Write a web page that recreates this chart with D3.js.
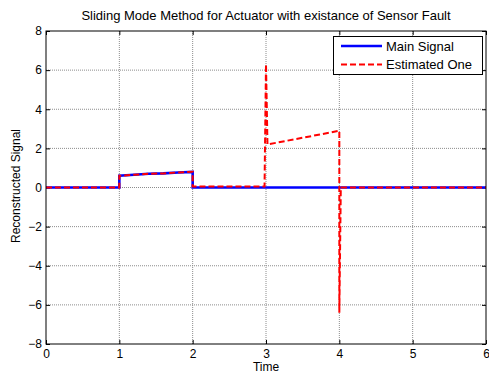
<!DOCTYPE html>
<html><head><meta charset="utf-8">
<script src="https://cdn.jsdelivr.net/npm/d3@7"></script>
<style>body{margin:0;background:#fff}svg{display:block}text{font-family:Arial,"Liberation Sans",sans-serif}</style>
</head><body>
<svg id="c" width="489" height="374"></svg>
<script>
const title = "Sliding Mode Method for Actuator with existance of Sensor Fault";
const xLabel = "Time";
const yLabel = "Reconstructed Signal";
const xTicks = [0,1,2,3,4,5,6];
const yTicks = [-8,-6,-4,-2,0,2,4,6,8];
const seriesNames = ["Main Signal","Estimated One"];
// Main signal (time, value)
const mainT = [0, 1, 1, 1.2, 1.4, 1.6, 1.8, 2, 2, 3, 4, 6];
const mainV = [0, 0, 0.6, 0.65, 0.7, 0.72, 0.77, 0.8, 0, 0, 0, 0];
// Estimated (time, value)
const estT = [0, 1, 1, 1.2, 1.4, 1.6, 1.8, 2, 2, 2.98, 3.0, 3.02, 4.0, 4.0, 4.02, 6];
const estV = [0, 0, 0.6, 0.65, 0.7, 0.72, 0.77, 0.8, 0.05, 0.05, 6.3, 2.2, 2.9, -6.4, 0, 0];

const svg = d3.select("#c");
const L=46, R=486, T=31, B=344;
const x = d3.scaleLinear().domain([0,6]).range([L,R]);
const y = d3.scaleLinear().domain([-8,8]).range([B,T]);

// grid
const g = svg.append("g");
g.selectAll("line.vx").data(xTicks.slice(1,-1)).join("line")
  .attr("x1",d=>x(d)).attr("x2",d=>x(d)).attr("y1",T).attr("y2",B)
  .attr("stroke","#8c8c8c").attr("stroke-width",1).attr("stroke-dasharray","1,1");
g.selectAll("line.hy").data(yTicks.slice(1,-1)).join("line")
  .attr("y1",d=>y(d)).attr("y2",d=>y(d)).attr("x1",L).attr("x2",R)
  .attr("stroke","#8c8c8c").attr("stroke-width",1).attr("stroke-dasharray","1,1");

// axes
const xAxB = d3.axisBottom(x).tickValues(xTicks).tickSize(-4).tickPadding(5).tickFormat(d3.format("d"));
const xAxT = d3.axisTop(x).tickValues(xTicks).tickSize(-4).tickFormat("");
const yAxL = d3.axisLeft(y).tickValues(yTicks).tickSize(-4).tickPadding(4).tickFormat(d3.format("d"));
const yAxR = d3.axisRight(y).tickValues(yTicks).tickSize(-4).tickFormat("");
function style(sel){sel.select(".domain").remove();sel.selectAll("line").attr("stroke","#000");sel.selectAll("text").attr("font-size",12).attr("fill","#000").attr("font-family","Arial, 'Liberation Sans', sans-serif");}
svg.append("g").attr("transform",`translate(0,${B})`).call(xAxB).call(style);
svg.append("g").attr("transform",`translate(0,${T})`).call(xAxT).call(style);
svg.append("g").attr("transform",`translate(${L},0)`).call(yAxL).call(style);
svg.append("g").attr("transform",`translate(${R},0)`).call(yAxR).call(style);

// lines
const line = d3.line().x(d=>x(d[0])).y(d=>y(d[1]));
const mainData = mainT.map((t,i)=>[t,mainV[i]]);
const estData = estT.map((t,i)=>[t,estV[i]]);
svg.append("path").datum(mainData).attr("d",line).attr("fill","none").attr("stroke","#0000ff").attr("stroke-width",2.6);
svg.append("path").datum(estData).attr("d",line).attr("fill","none").attr("stroke","#ff0000").attr("stroke-width",2).attr("stroke-dasharray","6,3");

// box
svg.append("rect").attr("x",L).attr("y",T).attr("width",R-L).attr("height",B-T).attr("fill","none").attr("stroke","#000").attr("stroke-width",1);

// title & labels
svg.append("text").attr("x",(L+R)/2).attr("y",20).attr("text-anchor","middle").attr("font-size",13).text(title);
svg.append("text").attr("x",(L+R)/2).attr("y",371).attr("text-anchor","middle").attr("font-size",12).text(xLabel);
svg.append("text").attr("transform",`translate(20,186) rotate(-90)`).attr("text-anchor","middle").attr("font-size",12).text(yLabel);

// legend
const lg = svg.append("g");
lg.append("rect").attr("x",333.5).attr("y",36.5).attr("width",149).attr("height",38).attr("fill","#fff").attr("stroke","#000").attr("stroke-width",1);
const colors=["#0000ff","#ff0000"], widths=[2.6,2], dashes=[null,"6,3"];
seriesNames.forEach((n,i)=>{
  const yy = 46 + i*18.5;
  lg.append("line").attr("x1",341).attr("x2",382).attr("y1",yy).attr("y2",yy).attr("stroke",colors[i]).attr("stroke-width",widths[i]).attr("stroke-dasharray",dashes[i]);
  lg.append("text").attr("x",386).attr("y",yy+4.5).attr("font-size",13).text(n);
});
</script>
</body></html>
